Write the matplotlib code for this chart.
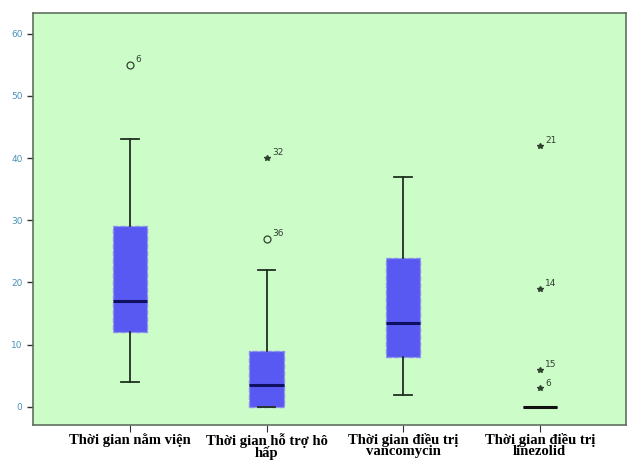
import numpy as np
import matplotlib.pyplot as plt

labels = ['Thời gian nằm viện', 'Thời gian hỗ trợ hô\nhấp',
          'Thời gian điều trị\nvancomycin', 'Thời gian điều trị\nlinezolid']
whislo = [4, 0, 2, 0]
q1 = [12, 0, 8, 0]
med = [17, 3.5, 13.5, 0]
q3 = [29, 9, 24, 0]
whishi = [43, 22, 37, 0]

# outliers: (group, value, case id, kind)  o = outlier, * = extreme
out_grp = [1, 2, 2, 4, 4, 4, 4]
out_val = [55, 40, 27, 42, 19, 6, 3]
out_id = ['6', '32', '36', '21', '14', '15', '6']
out_kind = ['o', '*', 'o', '*', '*', '*', '*']

stats = []
for i in range(4):
    stats.append(dict(whislo=whislo[i], q1=q1[i], med=med[i], q3=q3[i],
                      whishi=whishi[i], fliers=[]))

fig = plt.figure(figsize=(6.28, 4.66), dpi=100)
ax = fig.add_axes([0.0525, 0.088, 0.944, 0.884])
ax.set_facecolor('#ccfcc8')

bp = ax.bxp(stats, positions=[1, 2, 3, 4], widths=0.25, patch_artist=True,
            showfliers=False,
            boxprops=dict(facecolor='#5858f2', edgecolor='#8c8cf0', linestyle='--', linewidth=1),
            medianprops=dict(color='#101060', linewidth=2.2),
            whiskerprops=dict(color='#203020', linewidth=1.3),
            capprops=dict(color='#203020', linewidth=1.3),
            capwidths=0.13)
bp['medians'][3].set_color('#101010')

for g, v, t, k in zip(out_grp, out_val, out_id, out_kind):
    if k == 'o':
        ax.plot(g, v, 'o', mfc='none', mec='#304030', ms=5, mew=0.9)
    else:
        ax.plot(g, v, '*', color='#304030', ms=4)
    ax.annotate(t, (g, v), xytext=(4, 2), textcoords='offset points',
                fontsize=6.5, color='#304030')

ax.set_xlim(0.29, 4.63)
ax.set_ylim(-2.9, 63.3)
ax.set_yticks([0, 10, 20, 30, 40, 50, 60])
ax.tick_params(axis='y', labelsize=6.5, labelcolor='#4a90b8', color='#303030', length=4, width=1)
ax.set_xticks([1, 2, 3, 4])
ax.set_xticklabels(labels, fontsize=10.5, fontweight='bold', family='Liberation Serif',
                   linespacing=0.8)
ax.tick_params(axis='x', length=5, color='#303030', pad=1)
for s in ax.spines.values():
    s.set_color('#607060')
    s.set_linewidth(1.2)

fig.savefig('out.png', dpi=100, facecolor='white')
